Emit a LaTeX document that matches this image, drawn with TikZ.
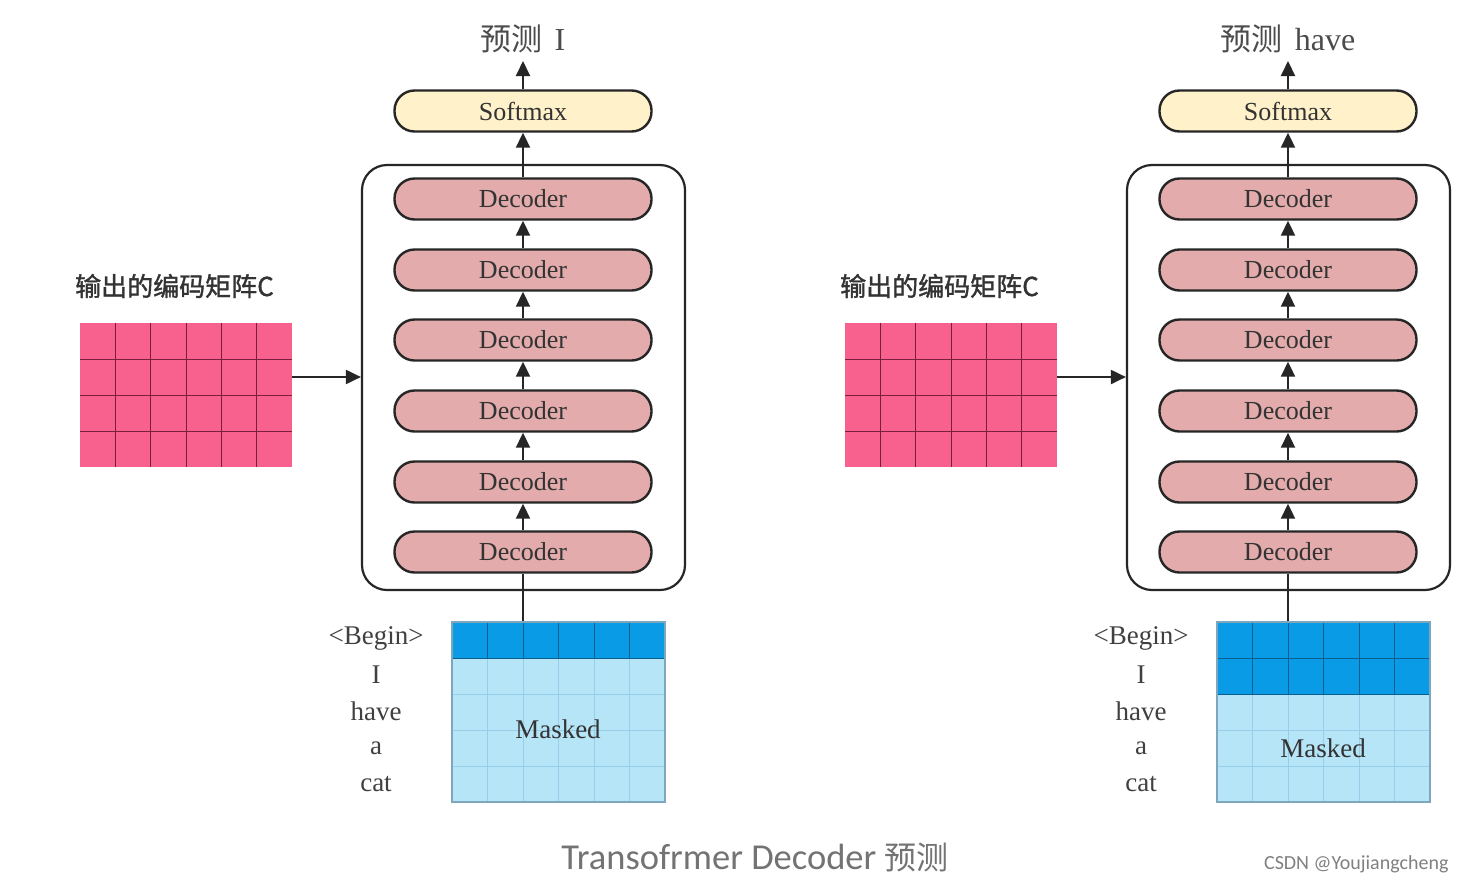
\documentclass[tikz,border=0pt]{standalone}
\usepackage{fontspec}
\setmainfont{Liberation Serif}
\newfontfamily\cjk{Noto Sans CJK SC}
\newfontfamily\cjkb[FakeBold=1.4]{Noto Sans CJK SC}
\newfontfamily\capfont{Carlito}
\usetikzlibrary{arrows.meta}
\definecolor{decfill}{HTML}{E3ABAB}
\definecolor{softfill}{HTML}{FFF1C9}
\definecolor{pinkC}{HTML}{F8608E}
\definecolor{pinkgrid}{HTML}{7A1E3D}
\definecolor{darkblue}{HTML}{0A9BE6}
\definecolor{darkbluegrid}{HTML}{0A5F8F}
\definecolor{lightblue}{HTML}{B6E5F8}
\definecolor{lightbluegrid}{HTML}{97CFEA}
\definecolor{blueborder}{HTML}{7EA6BC}
\tikzset{
  pill/.style={draw=black!85, line width=2.4pt, rounded corners=20pt,
    minimum width=257pt, minimum height=41pt, inner sep=0pt,
    font=\fontsize{26}{30}\selectfont, text=black!80},
  dec/.style={pill, fill=decfill},
  soft/.style={pill, fill=softfill},
  arr/.style={-{Triangle[length=15pt,width=14pt]}, line width=2pt, draw=black!85},
  plainline/.style={line width=2pt, draw=black!85},
  word/.style={font=\fontsize{27}{30}\selectfont, text=black!75, inner sep=0pt},
  titletext/.style={text=black!70, inner sep=2pt},
}
\newcommand\drawpanel[5]{%
\begin{scope}[xshift=#1]
  \node[draw=black!85, line width=2.2pt, rounded corners=25pt,
        minimum width=323pt, minimum height=425pt] (box#2) at (523.5,377.5) {};
  \foreach \yy [count=\i] in {552,482,411,340,270,199}
    \node[dec] (d\i#2) at (523,\yy) {Decoder};
  \foreach \i/\j in {1/2,2/3,3/4,4/5,5/6}
    \draw[arr] (d\i#2.north) -- (d\j#2.south);
  \node[soft] (soft#2) at (523,111) {Softmax};
  \draw[arr] (d6#2.north) -- (soft#2.south);
  \node[titletext, anchor=base] (title#2) at (523,50) {#3};
  \coordinate (tip#2) at (523,61);
  \draw[arr] (soft#2.north) -- (tip#2);
  % encoder output matrix C
  \node[fill=pinkC, minimum width=212pt, minimum height=144pt, inner sep=0pt] (C#2) at (186,395) {};
  \foreach \k in {1,...,5}
    \draw[pinkgrid, line width=1pt] ({80+\k*35.333},323) -- ({80+\k*35.333},467);
  \foreach \k in {1,2,3}
    \draw[pinkgrid, line width=1pt] (80,{323+\k*36}) -- (292,{323+\k*36});
  \node[font=\cjkb\fontsize{26}{30}\selectfont, text=black!80, anchor=west, inner sep=0pt] (lab#2) at (75,286) {输出的编码矩阵C};
  \coordinate (cout#2) at (292,377);
  \draw[arr] (cout#2) -- (cout#2 -| box#2.west);
  % masked input matrix
  \node[fill=lightblue, draw=blueborder, line width=1.2pt, minimum width=213pt, minimum height=180pt, inner sep=0pt] (M#2) at (558.5,712) {};
  \foreach \k in {1,...,5}
    \draw[lightbluegrid, line width=1pt] ({452+\k*35.5},622) -- ({452+\k*35.5},802);
  \foreach \k in {1,...,4}
    \draw[lightbluegrid, line width=1pt] (452,{622+\k*36}) -- (665,{622+\k*36});
  \fill[darkblue] (452,622) rectangle (665,{622+36*#4});
  \foreach \k in {1,...,5}
    \draw[darkbluegrid, line width=1pt] ({452+\k*35.5},622) -- ({452+\k*35.5},{622+36*#4});
  \foreach \k in {1,...,#4}
    \draw[darkbluegrid, line width=1pt] (452,{622+\k*36}) -- (665,{622+\k*36});
  \draw[blueborder, line width=1.2pt] (452,622) rectangle (665,802);
  \node[word, text=black!80] (mask#2) at (558,#5) {Masked};
  \draw[plainline] (d1#2.south |- M#2.north) -- (d1#2.south);
  \foreach \w/\yy [count=\i] in {{<Begin>}/638,I/675,have/711,a/748,cat/784}
    \node[word] (w\i#2) at (376,\yy) {\w};
\end{scope}}
\begin{document}
\begin{tikzpicture}[x=1pt,y=-1pt]
  \useasboundingbox (0,0) rectangle (1467,884);
  \fill[white] (0,0) rectangle (1467,884);
  \drawpanel{0pt}{L}{{\cjk\fontsize{31}{34}\selectfont 预测}\hspace{12pt}{\fontsize{32}{34}\selectfont I}}{1}{729}
  \drawpanel{765pt}{R}{{\cjk\fontsize{31}{34}\selectfont 预测}\hspace{12pt}{\fontsize{32}{34}\selectfont have}}{2}{748}
  \node[font=\capfont\fontsize{36.5}{40}\selectfont, text=black!55] (caption) at (755,857) {Transofrmer Decoder {\cjk\fontsize{32}{34}\selectfont 预测}};
  \node[font=\capfont\fontsize{20}{22}\selectfont, text=black!50, anchor=east] (mark) at (1452,864) {CSDN @Youjiangcheng};
\end{tikzpicture}
\end{document}
